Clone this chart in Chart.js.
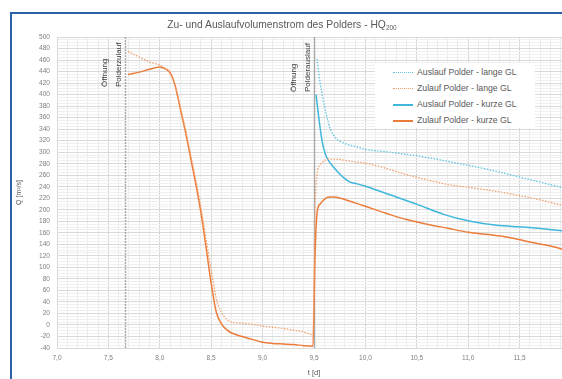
<!DOCTYPE html>
<html lang="de">
<head>
<meta charset="UTF-8">
<title>Zu- und Auslaufvolumenstrom des Polders - HQ200</title>
<script src="https://cdn.jsdelivr.net/npm/chart.js"></script>
<style>
  html, body { margin: 0; padding: 0; background: #fff; overflow: hidden; }
  body { width: 562px; height: 379px; position: relative; font-family: 'Liberation Sans', Arial, sans-serif; }
  .frame { position: absolute; left: 10px; top: 12px; width: 700px; height: 500px; border: 2px solid #2d5fab; }
  .chart-box { position: absolute; left: 0; top: 0; width: 600px; height: 379px; }
  .title { position: absolute; left: 0; top: 19px; width: 564px; text-align: center; font-size: 10.3px; line-height: 12px; color: #595959; }
  .title sub { font-size: 6.5px; vertical-align: -2px; line-height: 0; }
  .legend { position: absolute; left: 375px; top: 63px; width: 160px; height: 65px; background: #fff; }
  .legend-item { position: absolute; left: 18px; height: 12px; font-size: 8.7px; line-height: 12px; color: #595959; white-space: nowrap; }
  .swatch { display: inline-block; width: 20px; height: 0; vertical-align: middle; margin-right: 4px; }
</style>
</head>
<body>

<div class="frame"></div>
<div class="chart-box"><canvas id="polderChart"></canvas></div>
<div class="title">Zu- und Auslaufvolumenstrom des Polders - HQ<sub>200</sub></div>
<div class="legend" id="legend"></div>

<script>
  // series names (legend order)
  const seriesNames = [
    'Auslauf Polder - lange GL',
    'Zulauf Polder - lange GL',
    'Auslauf Polder - kurze GL',
    'Zulauf Polder - kurze GL'
  ];

  // Auslauf Polder - lange GL (t in d, Q in m3/s)
  const tAuslaufLang = [9.53, 9.56, 9.59, 9.62, 9.66, 9.71, 9.80, 9.92, 10.0, 10.24, 10.56, 10.89, 11.22, 11.54, 11.95];
  const qAuslaufLang = [462, 420, 390, 365, 340, 325, 315, 309, 305, 300, 292, 281, 269, 255, 237];

  // Zulauf Polder - lange GL
  const tZulaufLang = [7.69, 7.80, 7.90, 8.00, 8.05, 8.10, 8.15, 8.20, 8.25, 8.30, 8.35, 8.40, 8.45, 8.50, 8.55, 8.60, 8.65, 8.70, 8.80, 8.90, 9.00, 9.10, 9.20, 9.30, 9.40, 9.49,
                       9.51, 9.53, 9.56, 9.60, 9.65, 9.70, 9.80, 9.90, 10.0, 10.2, 10.4, 10.6, 10.8, 11.0, 11.2, 11.4, 11.6, 11.8, 11.95];
  const qZulaufLang = [475, 465, 457, 451, 446, 436, 415, 378, 340, 296, 252, 205, 150, 95, 45, 22, 10, 5, 3, 1, -2, -4, -6, -9, -12, -17,
                       200, 262, 278, 285, 288, 288, 286, 283, 281, 272, 261, 252, 244, 239, 234, 228, 221, 213, 206];

  // Auslauf Polder - kurze GL
  const tAuslaufKurz = [9.52, 9.55, 9.58, 9.61, 9.65, 9.70, 9.75, 9.80, 9.85, 9.92, 10.0, 10.24, 10.51, 10.76, 11.02, 11.28, 11.54, 11.95];
  const qAuslaufKurz = [400, 355, 318, 297, 283, 272, 262, 254, 248, 245, 241, 226, 209, 192, 180, 173, 170, 163];

  // Zulauf Polder - kurze GL
  const tZulaufKurz = [7.69, 7.80, 7.90, 8.00, 8.05, 8.10, 8.15, 8.20, 8.25, 8.30, 8.35, 8.40, 8.45, 8.50, 8.55, 8.60, 8.65, 8.70, 8.80, 8.90, 9.00, 9.10, 9.20, 9.30, 9.40, 9.49,
                       9.51, 9.53, 9.56, 9.60, 9.65, 9.70, 9.80, 9.90, 10.0, 10.2, 10.4, 10.6, 10.8, 11.0, 11.2, 11.4, 11.6, 11.8, 11.95];
  const qZulaufKurz = [435, 439, 444, 448, 445, 438, 415, 375, 335, 290, 245, 195, 135, 72, 22, 2, -8, -14, -20, -25, -30, -32, -33, -34, -36, -37,
                       120, 195, 210, 218, 222, 222, 218, 212, 206, 194, 183, 175, 168, 161, 157, 152, 144, 137, 130];

  // opening events
  const eventT = [7.66, 9.5];
  const eventLabels = [['Öffnung', 'Polderzulauf'], ['Öffnung', 'Polderauslauf']];

  const seriesStyle = [
    { color: '#5fc5e3', width: 1.3, dash: [1.5, 1.5] },
    { color: '#f2a06c', width: 1.3, dash: [1.5, 1.5] },
    { color: '#3fb6dc', width: 1.5, dash: [] },
    { color: '#ec7c3a', width: 1.5, dash: [] }
  ];

  const pts = (t, q) => t.map((x, i) => ({ x: x, y: q[i] }));
  const seriesData = [
    pts(tAuslaufLang, qAuslaufLang),
    pts(tZulaufLang, qZulaufLang),
    pts(tAuslaufKurz, qAuslaufKurz),
    pts(tZulaufKurz, qZulaufKurz)
  ];

  // vertical event lines with rotated labels
  const eventPlugin = {
    id: 'eventLines',
    beforeDatasetsDraw(chart, args, opts) {
      const ctx = chart.ctx;
      const area = chart.chartArea;
      const xs = chart.scales.x;
      eventT.forEach((t, i) => {
        const px = Math.round(xs.getPixelForValue(t)) + 0.5;
        ctx.save();
        ctx.strokeStyle = '#a8a8a8';
        ctx.lineWidth = 1.4;
        ctx.setLineDash(i === 0 ? [2, 1] : []);
        ctx.beginPath();
        ctx.moveTo(px, area.top);
        ctx.lineTo(px, area.bottom);
        ctx.stroke();
        ctx.setLineDash([]);
        ctx.fillStyle = '#404040';
        ctx.font = '8px "Liberation Sans", Arial, sans-serif';
        ctx.textAlign = 'left';
        ctx.textBaseline = 'middle';
        const lines = eventLabels[i];
        lines.forEach((txt, j) => {
          const off = (lines.length - j) * 13.5 - 6.5;
          ctx.save();
          ctx.translate(px - off, opts.textStart[i]);
          ctx.rotate(-Math.PI / 2);
          ctx.fillText(txt, 0, 0);
          ctx.restore();
        });
        ctx.restore();
      });
    }
  };

  const near = (v, step) => Math.abs(v / step - Math.round(v / step)) < 1e-6;

  Chart.defaults.font.family = "'Liberation Sans', Arial, sans-serif";

  new Chart(document.getElementById('polderChart').getContext('2d'), {
    type: 'line',
    data: {
      datasets: seriesNames.map((name, i) => ({
        label: name,
        data: seriesData[i],
        borderColor: seriesStyle[i].color,
        borderWidth: seriesStyle[i].width,
        borderDash: seriesStyle[i].dash,
        pointRadius: 0,
        fill: false,
        cubicInterpolationMode: 'monotone'
      }))
    },
    options: {
      responsive: true,
      maintainAspectRatio: false,
      animation: false,
      layout: { padding: { left: 0, top: 37, right: 29, bottom: 0 } },
      plugins: {
        legend: { display: false },
        tooltip: { enabled: false },
        eventLines: { textStart: [87, 92] }
      },
      scales: {
        x: {
          type: 'linear',
          min: 7,
          max: 12,
          afterFit: s => { s.height = 31; },
          ticks: {
            stepSize: 0.1,
            autoSkip: false,
            maxRotation: 0,
            padding: 6,
            color: '#7f7f7f',
            font: { size: 6.6 },
            callback: v => near(v, 0.5) ? v.toFixed(1).replace('.', ',') : ''
          },
          grid: {
            drawTicks: false,
            color: c => (c.tick && near(c.tick.value, 0.5)) ? '#d4d4d4' : '#ebebeb'
          },
          border: { color: '#d9d9d9' },
          title: { display: true, text: 't [d]', color: '#595959', font: { size: 7.5 }, padding: { top: 0, bottom: 2 } }
        },
        y: {
          min: -40,
          max: 500,
          afterFit: s => { s.width = 57; },
          ticks: {
            stepSize: 5,
            autoSkip: false,
            padding: 7,
            color: '#7f7f7f',
            font: { size: 6.6 },
            callback: v => near(v, 20) ? String(v) : ''
          },
          grid: {
            drawTicks: false,
            color: c => (c.tick && near(c.tick.value, 20)) ? '#dadada' : '#f0f0f0'
          },
          border: { color: '#d9d9d9' },
          title: { display: true, text: 'Q [m³/s]', color: '#595959', font: { size: 7 }, padding: { top: 15, bottom: 0 } }
        }
      }
    },
    plugins: [eventPlugin]
  });

  // legend box inside the plot
  const legendBox = document.getElementById('legend');
  seriesNames.forEach((name, i) => {
    const item = document.createElement('div');
    item.className = 'legend-item';
    item.style.top = (3 + i * 16) + 'px';
    const sw = document.createElement('span');
    sw.className = 'swatch';
    sw.style.borderTop = seriesStyle[i].dash.length
      ? '1.5px dotted ' + seriesStyle[i].color
      : '2px solid ' + seriesStyle[i].color;
    item.appendChild(sw);
    item.appendChild(document.createTextNode(name));
    legendBox.appendChild(item);
  });
</script>

</body>
</html>
